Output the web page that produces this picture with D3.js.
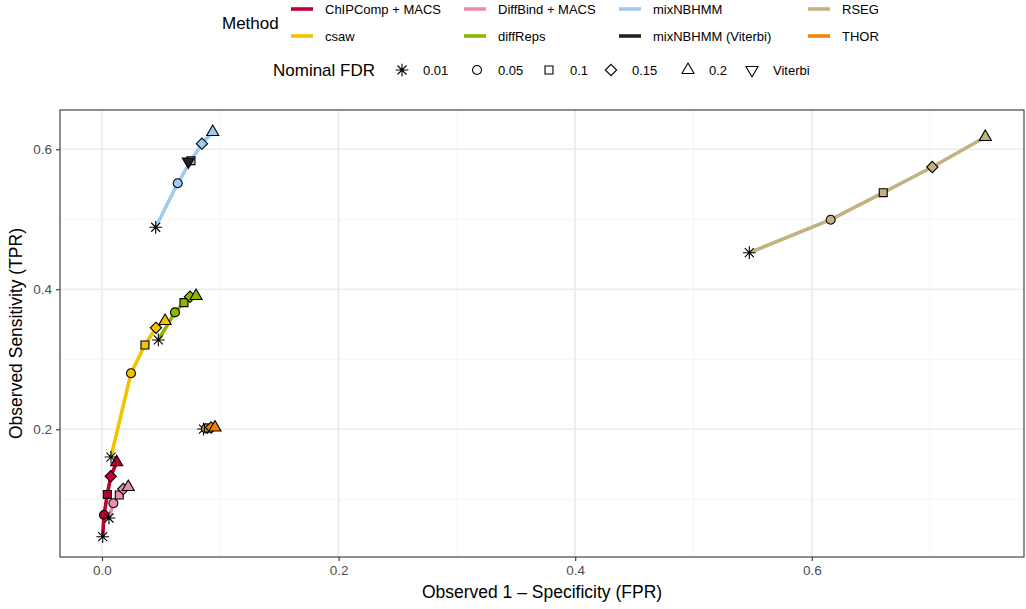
<!DOCTYPE html>
<html>
<head>
<meta charset="utf-8">
<script src="https://cdn.jsdelivr.net/npm/d3@7"></script>
<style>
  html, body { margin: 0; padding: 0; background: #fff; }
  text { font-family: "Liberation Sans", Arial, Helvetica, sans-serif; }
</style>
</head>
<body>
<svg id="chart" width="1026" height="609"></svg>
<script>
// Methods in legend order (filled column-wise, two rows)
const methods = ["ChIPComp + MACS", "csaw", "DiffBind + MACS", "diffReps",
                 "mixNBHMM", "mixNBHMM (Viterbi)", "RSEG", "THOR"];
const methodColors = ["#BE0032", "#F3C300", "#E68FAC", "#8DB600",
                      "#A1CAF1", "#222222", "#C2B280", "#F38400"];

// Nominal FDR levels, one per point of each curve
const fdrLevels = ["0.01", "0.05", "0.1", "0.15", "0.2"];
const fdrLegend = ["0.01", "0.05", "0.1", "0.15", "0.2", "Viterbi"];

// Observed FPR / TPR at each nominal FDR
const chipcompFPR = [0.0006, 0.0017, 0.0045, 0.0074, 0.0124];
const chipcompTPR = [0.0466, 0.0776, 0.1070, 0.1329, 0.1530];
const csawFPR     = [0.0076, 0.0245, 0.0363, 0.0456, 0.0533];
const csawTPR     = [0.1604, 0.2800, 0.3204, 0.3450, 0.3547];
const diffbindFPR = [0.0059, 0.0096, 0.0146, 0.0180, 0.0222];
const diffbindTPR = [0.0733, 0.0943, 0.1061, 0.1147, 0.1176];
const diffrepsFPR = [0.0476, 0.0617, 0.0693, 0.0744, 0.0795];
const diffrepsTPR = [0.3276, 0.3670, 0.3810, 0.3894, 0.3904];
const mixnbFPR    = [0.0454, 0.0640, 0.0752, 0.0845, 0.0936];
const mixnbTPR    = [0.4886, 0.5514, 0.5837, 0.6080, 0.6247];
const viterbiFPR  = [0.0730];
const viterbiTPR  = [0.5826];
const rsegFPR     = [0.5472, 0.6160, 0.6604, 0.7019, 0.7467];
const rsegTPR     = [0.4523, 0.4994, 0.5380, 0.5747, 0.6176];
const thorFPR     = [0.0858, 0.0879, 0.0900, 0.0922, 0.0955];
const thorTPR     = [0.2004, 0.2011, 0.2019, 0.2026, 0.2026];

const xTicks = [0, 0.2, 0.4, 0.6];
const yTicks = [0.2, 0.4, 0.6];
const xMinor = [0.1, 0.3, 0.5, 0.7];
const yMinor = [0.1, 0.3, 0.5];
const xLimits = [-0.0355, 0.7794];
const yLimits = [0.0176, 0.6561];

// Assemble one record per point
const seriesSpec = [
  ["ChIPComp + MACS", chipcompFPR, chipcompTPR, fdrLevels],
  ["csaw", csawFPR, csawTPR, fdrLevels],
  ["DiffBind + MACS", diffbindFPR, diffbindTPR, fdrLevels],
  ["diffReps", diffrepsFPR, diffrepsTPR, fdrLevels],
  ["mixNBHMM", mixnbFPR, mixnbTPR, fdrLevels],
  ["mixNBHMM (Viterbi)", viterbiFPR, viterbiTPR, ["Viterbi"]],
  ["RSEG", rsegFPR, rsegTPR, fdrLevels],
  ["THOR", thorFPR, thorTPR, fdrLevels]
];
const series = seriesSpec.map(([m, fx, fy, lv]) => ({
  method: m,
  points: fx.map((v, i) => ({ method: m, fpr: v, tpr: fy[i], fdr: lv[i] }))
}));
const allPoints = series.flatMap(s => s.points);

const color = d3.scaleOrdinal().domain(methods).range(methodColors);

// Panel geometry
const panel = { left: 60, right: 1024, top: 110, bottom: 557 };

const x = d3.scaleLinear().domain(xLimits).range([panel.left, panel.right]);
const y = d3.scaleLinear().domain(yLimits).range([panel.bottom, panel.top]);

// Point shapes (R pch 8, 21, 22, 23, 24, 25)
const R = 4.5;
function shapePath(fdr) {
  const p = d3.path();
  if (fdr === "0.01") {
    const a = R * Math.SQRT2;
    p.moveTo(-a, 0); p.lineTo(a, 0);
    p.moveTo(0, -a); p.lineTo(0, a);
    p.moveTo(-R, -R); p.lineTo(R, R);
    p.moveTo(-R, R); p.lineTo(R, -R);
  } else if (fdr === "0.05") {
    p.arc(0, 0, R, 0, 2 * Math.PI);
  } else if (fdr === "0.1") {
    const s = R * 0.886;
    p.rect(-s, -s, 2 * s, 2 * s);
  } else if (fdr === "0.15") {
    const s = R * 1.253;
    p.moveTo(0, -s); p.lineTo(s, 0); p.lineTo(0, s); p.lineTo(-s, 0); p.closePath();
  } else {
    const r = R * 1.555, xc = R * 1.347, yc = R * 0.7776;
    const sgn = fdr === "Viterbi" ? -1 : 1;
    p.moveTo(0, -sgn * r); p.lineTo(xc, sgn * yc); p.lineTo(-xc, sgn * yc); p.closePath();
  }
  return p.toString();
}

const svg = d3.select("#chart");

// Panel background, grid
const g = svg.append("g");
g.append("rect")
  .attr("x", panel.left).attr("y", panel.top)
  .attr("width", panel.right - panel.left).attr("height", panel.bottom - panel.top)
  .attr("fill", "#fff");

g.selectAll("line.gxm").data(xMinor).join("line")
  .attr("x1", d => x(d)).attr("x2", d => x(d))
  .attr("y1", panel.top).attr("y2", panel.bottom)
  .attr("stroke", "#F2F2F2").attr("stroke-width", 0.8);
g.selectAll("line.gym").data(yMinor).join("line")
  .attr("y1", d => y(d)).attr("y2", d => y(d))
  .attr("x1", panel.left).attr("x2", panel.right)
  .attr("stroke", "#F2F2F2").attr("stroke-width", 0.8);
g.selectAll("line.gx").data(xTicks).join("line")
  .attr("x1", d => x(d)).attr("x2", d => x(d))
  .attr("y1", panel.top).attr("y2", panel.bottom)
  .attr("stroke", "#EBEBEB").attr("stroke-width", 1.6);
g.selectAll("line.gy").data(yTicks).join("line")
  .attr("y1", d => y(d)).attr("y2", d => y(d))
  .attr("x1", panel.left).attr("x2", panel.right)
  .attr("stroke", "#EBEBEB").attr("stroke-width", 1.6);

// Curves
const line = d3.line().x(d => x(d.fpr)).y(d => y(d.tpr));
g.selectAll("path.curve").data(series.filter(s => s.points.length > 1)).join("path")
  .attr("class", "curve")
  .attr("d", s => line(s.points))
  .attr("fill", "none")
  .attr("stroke", s => color(s.method))
  .attr("stroke-width", 3.6)
  .attr("stroke-linejoin", "round");

// Points
g.selectAll("path.pt").data(allPoints).join("path")
  .attr("class", "pt")
  .attr("transform", d => `translate(${x(d.fpr)},${y(d.tpr)})`)
  .attr("d", d => shapePath(d.fdr))
  .attr("fill", d => d.fdr === "0.01" ? "none" : color(d.method))
  .attr("stroke", "#000")
  .attr("stroke-width", 1.1);

// Panel border
g.append("rect")
  .attr("x", panel.left).attr("y", panel.top)
  .attr("width", panel.right - panel.left).attr("height", panel.bottom - panel.top)
  .attr("fill", "none").attr("stroke", "#333").attr("stroke-width", 1.1);

// Axes
const xAxis = d3.axisBottom(x).tickValues(xTicks).tickFormat(d3.format(".1f"))
  .tickSize(4).tickPadding(4);
const yAxis = d3.axisLeft(y).tickValues(yTicks).tickFormat(d3.format(".1f"))
  .tickSize(4).tickPadding(4);
const gx = svg.append("g").attr("transform", `translate(0,${panel.bottom})`).call(xAxis);
const gy = svg.append("g").attr("transform", `translate(${panel.left},0)`).call(yAxis);
[gx, gy].forEach(a => {
  a.select(".domain").remove();
  a.selectAll(".tick line").attr("stroke", "#333").attr("stroke-width", 1.1);
  a.selectAll(".tick text").attr("fill", "#4D4D4D")
    .style("font-size", "13.5px").style("font-family", "'Liberation Sans', Arial, sans-serif");
});

// Axis titles
svg.append("text")
  .attr("x", (panel.left + panel.right) / 2).attr("y", 598)
  .attr("text-anchor", "middle").style("font-size", "17.5px")
  .text("Observed 1 \u2013 Specificity (FPR)");
svg.append("text")
  .attr("transform", `translate(22,${(panel.top + panel.bottom) / 2}) rotate(-90)`)
  .attr("text-anchor", "middle").style("font-size", "17.5px")
  .text("Observed Sensitivity (TPR)");

// Method legend
const lg = svg.append("g");
lg.append("text").attr("x", 222).attr("y", 29)
  .style("font-size", "17px").text("Method");
const colKeyX = [291, 464, 619, 808];
const rowY = [9, 36];
methods.forEach((m, i) => {
  const col = Math.floor(i / 2), row = i % 2;
  const kx = colKeyX[col], ky = rowY[row];
  lg.append("line")
    .attr("x1", kx).attr("x2", kx + 22).attr("y1", ky).attr("y2", ky)
    .attr("stroke", color(m)).attr("stroke-width", 3.6);
  lg.append("text").attr("x", kx + 34).attr("y", ky + 4.5)
    .style("font-size", "13px").text(m);
});

// Nominal FDR legend
const fg = svg.append("g");
fg.append("text").attr("x", 273).attr("y", 76)
  .style("font-size", "17px").text("Nominal FDR");
const symX = [402, 477, 549, 611, 688, 752];
fdrLegend.forEach((lv, i) => {
  fg.append("path")
    .attr("transform", `translate(${symX[i]},70)`)
    .attr("d", shapePath(lv))
    .attr("fill", "none").attr("stroke", "#000").attr("stroke-width", 1.1);
  fg.append("text").attr("x", symX[i] + 21).attr("y", 74.5)
    .style("font-size", "13px").text(lv);
});
</script>
</body>
</html>
